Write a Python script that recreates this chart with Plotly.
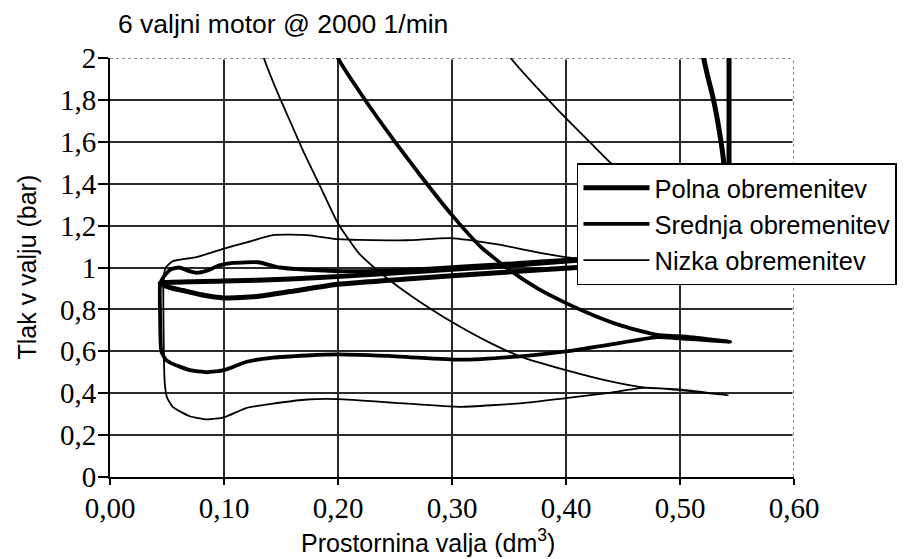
import plotly.graph_objects as go

# Cylinder volume (dm^3) and cylinder pressure (bar) for each load case,
# traced around the gas-exchange loop: expansion -> exhaust -> intake -> compression.
v_polna = [0.518, 0.520, 0.524, 0.529, 0.533, 0.536, 0.538, 0.540, 0.542, 0.543,
           0.490, 0.410, 0.340, 0.280, 0.210, 0.158, 0.100, 0.055, 0.044, 0.052,
           0.064, 0.080, 0.100, 0.129, 0.158, 0.200, 0.260, 0.340, 0.410, 0.480,
           0.543, 0.543, 0.543]
p_polna = [2.10, 2.02, 1.92, 1.81, 1.70, 1.60, 1.52, 1.40, 1.25, 1.07,
           1.055, 1.035, 1.005, 0.985, 0.960, 0.945, 0.935, 0.930, 0.925, 0.905,
           0.890, 0.870, 0.855, 0.862, 0.885, 0.920, 0.945, 0.975, 1.000, 1.020,
           1.040, 1.50, 2.10]

v_srednja = [0.500, 0.410, 0.340, 0.280, 0.213, 0.178, 0.149, 0.130, 0.108, 0.096,
             0.085, 0.076, 0.068, 0.061, 0.053, 0.047, 0.044, 0.044, 0.045, 0.049,
             0.055, 0.070, 0.085, 0.100, 0.120, 0.143, 0.173, 0.200, 0.254, 0.307,
             0.357, 0.400, 0.436, 0.480, 0.500, 0.544, 0.500, 0.480, 0.450, 0.425,
             0.400, 0.375, 0.350, 0.325, 0.300, 0.275, 0.250, 0.225, 0.200, 0.195]
p_srednja = [1.050, 1.040, 1.015, 0.995, 0.982, 0.988, 1.000, 1.025, 1.022, 1.010,
             0.985, 0.975, 0.985, 1.000, 0.990, 0.955, 0.920, 0.750, 0.600, 0.560,
             0.540, 0.510, 0.500, 0.510, 0.550, 0.570, 0.580, 0.585, 0.575, 0.560,
             0.575, 0.600, 0.630, 0.668, 0.662, 0.645, 0.672, 0.678, 0.720, 0.770,
             0.830, 0.900, 0.990, 1.100, 1.250, 1.420, 1.600, 1.790, 2.000, 2.100]

v_nizka = [0.347, 0.349, 0.395, 0.439, 0.470, 0.500, 0.530, 0.543, 0.500, 0.450,
           0.406, 0.377, 0.340, 0.298, 0.260, 0.200, 0.173, 0.143, 0.120, 0.100,
           0.076, 0.055, 0.049, 0.047, 0.047, 0.048, 0.050, 0.055, 0.070, 0.085,
           0.100, 0.120, 0.143, 0.173, 0.200, 0.254, 0.307, 0.362, 0.400, 0.436,
           0.468, 0.500, 0.542, 0.500, 0.468, 0.436, 0.400, 0.360, 0.330, 0.300,
           0.275, 0.255, 0.236, 0.218, 0.200, 0.185, 0.170, 0.157, 0.145, 0.135,
           0.131]
p_nizka = [2.10, 2.02, 1.74, 1.50, 1.33, 1.20, 1.10, 1.06, 1.06, 1.05,
           1.045, 1.07, 1.11, 1.14, 1.13, 1.135, 1.155, 1.155, 1.12, 1.09,
           1.05, 1.03, 1.00, 0.95, 0.70, 0.45, 0.38, 0.335, 0.29, 0.275,
           0.285, 0.33, 0.35, 0.37, 0.372, 0.353, 0.335, 0.353, 0.377, 0.40,
           0.425, 0.415, 0.39, 0.418, 0.428, 0.46, 0.51, 0.575, 0.65, 0.74,
           0.825, 0.90, 0.98, 1.07, 1.21, 1.38, 1.55, 1.71, 1.86, 2.00,
           2.10]

series_names = ["Polna obremenitev", "Srednja obremenitev", "Nizka obremenitev"]
series_widths = [5.0, 3.8, 1.8]

x_ticks = [0.0, 0.1, 0.2, 0.3, 0.4, 0.5, 0.6]
x_ticktext = ["0,00", "0,10", "0,20", "0,30", "0,40", "0,50", "0,60"]
y_ticks = [0.0, 0.2, 0.4, 0.6, 0.8, 1.0, 1.2, 1.4, 1.6, 1.8, 2.0]
y_ticktext = ["0", "0,2", "0,4", "0,6", "0,8", "1", "1,2", "1,4", "1,6", "1,8", "2"]

SANS = "Liberation Sans, Arial, sans-serif"
SERIF = "Liberation Serif, Times New Roman, serif"

fig = go.Figure()
for name, vx, py, w in zip(series_names,
                           [v_polna, v_srednja, v_nizka],
                           [p_polna, p_srednja, p_nizka],
                           series_widths):
    fig.add_trace(go.Scatter(
        x=vx, y=py, mode="lines", name=name,
        line=dict(color="#000000", width=w, shape="spline", smoothing=0.5),
        hoverinfo="skip",
    ))

axis_common = dict(
    showgrid=True, gridcolor="#2a2a2a", gridwidth=1.6,
    zeroline=False, showline=True, linecolor="#000000",
    ticks="outside", tickcolor="#000000", tickwidth=1.5,
    tickfont=dict(family=SERIF, size=29, color="#000000"),
)

fig.update_xaxes(range=[0, 0.6], tickmode="array", tickvals=x_ticks,
                 ticktext=x_ticktext, ticklen=6, linewidth=1.5,
                 ticklabelstandoff=-2, **axis_common)
fig.update_yaxes(range=[0, 2], tickmode="array", tickvals=y_ticks,
                 ticktext=y_ticktext, ticklen=10, linewidth=2,
                 ticklabelstandoff=-4, **axis_common)

# Upper and right frame edges are drawn as light dotted lines.
edge_lines = [
    dict(x0=0, x1=0.6, y0=2, y1=2),
    dict(x0=0.6, x1=0.6, y0=0, y1=2),
]
for e in edge_lines:
    fig.add_shape(type="line", xref="x", yref="y", layer="between",
                  line=dict(color="#ffffff", width=3), **e)
    fig.add_shape(type="line", xref="x", yref="y", layer="between",
                  line=dict(color="#707070", width=1.5, dash="dot"), **e)

fig.add_annotation(text="Tlak v valju (bar)", textangle=-90,
                   xref="paper", yref="paper", x=-0.1228, y=0.5,
                   xanchor="center", yanchor="middle", showarrow=False,
                   font=dict(family=SANS, size=25, color="#000000"))
fig.add_annotation(text="Prostornina valja (dm<sup>3</sup>)",
                   xref="paper", yref="paper", x=0.465, y=-0.153,
                   xanchor="center", yanchor="middle", showarrow=False,
                   font=dict(family=SANS, size=25, color="#000000"))

fig.update_layout(
    width=904, height=559,
    margin=dict(l=110, r=110, t=58, b=82, autoexpand=False),
    paper_bgcolor="#ffffff", plot_bgcolor="#ffffff",
    title=dict(text="6 valjni motor @ 2000 1/min", x=118 / 904, xanchor="left",
               y=1 - 24 / 559, yanchor="middle",
               font=dict(family=SANS, size=26.5, color="#000000")),
    legend=dict(x=0.6827, y=0.749, xanchor="left", yanchor="top",
                bgcolor="#ffffff", bordercolor="#000000", borderwidth=1.5,
                itemwidth=66, traceorder="normal",
                font=dict(family=SANS, size=25.5, color="#000000")),
    showlegend=True,
)

fig.write_html("out.html")
